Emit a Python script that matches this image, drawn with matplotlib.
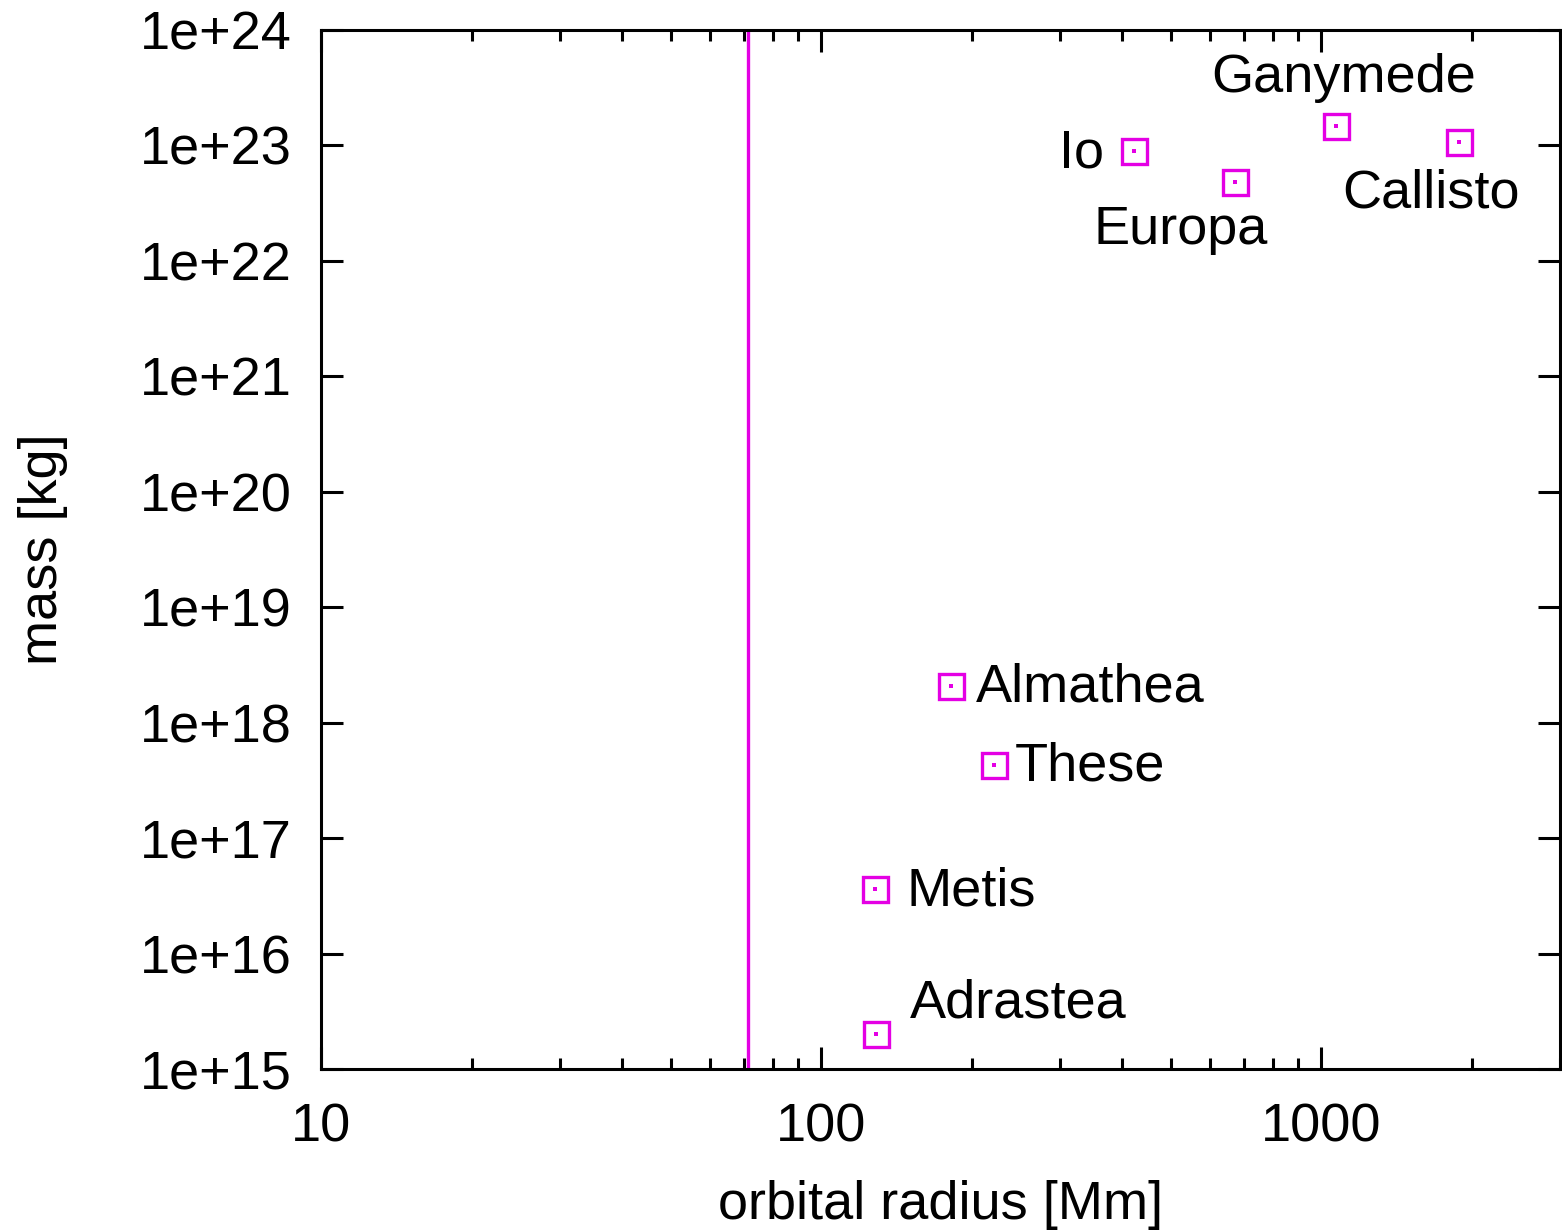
import math
import matplotlib.pyplot as plt
from matplotlib.ticker import LogLocator, FixedLocator, NullLocator, NullFormatter

plt.rcParams['font.family'] = ['Liberation Sans', 'DejaVu Sans']

# Jupiter moons: orbital radius [Mm], mass [kg]
moons = ['Io', 'Europa', 'Ganymede', 'Callisto', 'Almathea', 'These', 'Metis', 'Adrastea']
radius = [421.7, 671.0, 1070.4, 1882.7, 181.4, 221.9, 128.0, 129.0]
mass = [8.93e22, 4.80e22, 1.48e23, 1.08e23, 2.08e18, 4.3e17, 3.6e16, 2.0e15]
jupiter_radius = 71.492

# label placement (pixel offsets, alignment)
label_pos = {
    'Io': (-30, -2, 'right', 'center'),
    'Europa': (-54, -48, 'center', 'center'),
    'Ganymede': (7, 48, 'center', 'center'),
    'Callisto': (-28, -52, 'center', 'center'),
    'Almathea': (25, -2, 'left', 'center'),
    'These': (20, -2, 'left', 'center'),
    'Metis': (32, -2, 'left', 'center'),
    'Adrastea': (33, 31, 'left', 'center'),
}

col = '#e400e4'
fs = 39

fig = plt.figure(figsize=(15.62, 12.32), dpi=100)
ax = fig.add_axes([321 / 1562, 1 - 1069 / 1232, (1560 - 321) / 1562, (1069 - 30) / 1232])

ax.axvline(jupiter_radius, color=col, lw=2.4)
ax.plot(radius, mass, 's', ms=18, mfc='none', mec=col, mew=2.4)
ax.plot(radius, mass, 's', ms=2.2, color=col, mew=0)

for name, x, y in zip(moons, radius, mass):
    dx, dy, ha, va = label_pos[name]
    ax.annotate(name, (x, y), xytext=(dx, dy), textcoords='offset pixels',
                ha=ha, va=va, fontsize=fs)

ax.set_xscale('log')
ax.set_yscale('log')
ax.set_xlim(10, 3000)
ax.set_ylim(1e15, 1e24)

ax.xaxis.set_major_locator(FixedLocator([10, 100, 1000]))
ax.xaxis.set_major_formatter(plt.FuncFormatter(lambda v, p: '%d' % v))
ax.xaxis.set_minor_locator(LogLocator(base=10, subs=range(2, 10)))
ax.xaxis.set_minor_formatter(NullFormatter())
ax.yaxis.set_major_locator(FixedLocator([10.0 ** k for k in range(15, 25)]))
ax.yaxis.set_major_formatter(plt.FuncFormatter(lambda v, p: '1e+%d' % round(math.log10(v))))
ax.yaxis.set_minor_locator(NullLocator())

ax.tick_params(which='both', direction='in', top=True, right=True, labelsize=fs, width=2.2)
ax.tick_params(which='major', length=16)
ax.tick_params(which='minor', length=8)
ax.tick_params(axis='x', which='major', pad=24)
ax.tick_params(axis='y', which='major', pad=21)
for s in ax.spines.values():
    s.set_linewidth(2.2)

ax.set_xlabel('orbital radius [Mm]', fontsize=fs, labelpad=20)
ax.set_ylabel('mass [kg]', fontsize=fs, labelpad=52)

fig.savefig('out.png', dpi=100)
